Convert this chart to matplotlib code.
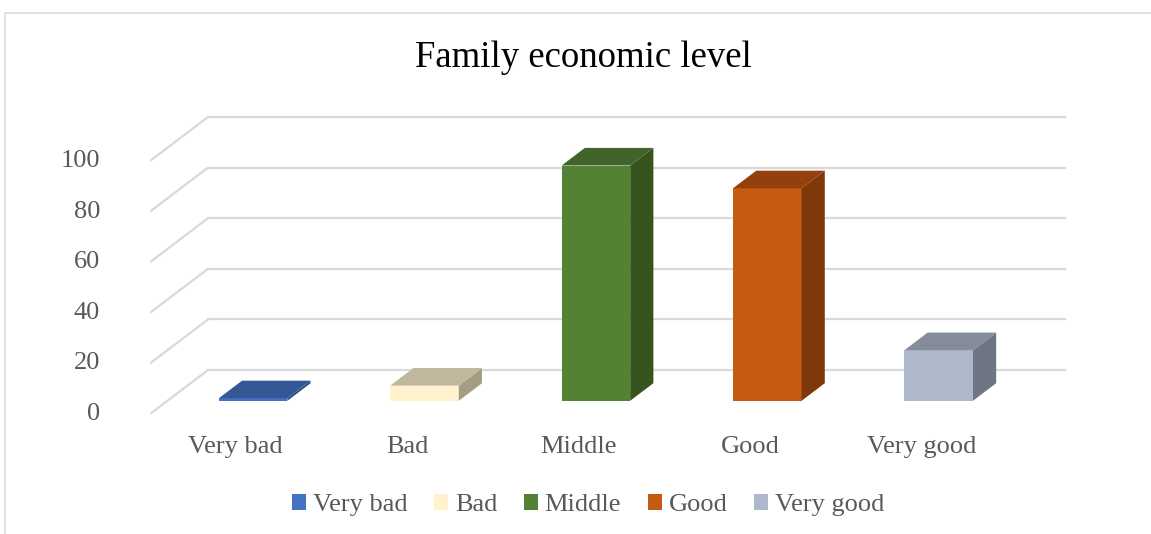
import matplotlib
matplotlib.use("Agg")
import matplotlib.pyplot as plt
from matplotlib.patches import Polygon, Patch, Rectangle

# ---- data ----
categories = ["Very bad", "Bad", "Middle", "Good", "Very good"]
values = [1, 6, 93, 84, 20]
yticks = [0, 20, 40, 60, 80, 100]
front_colors = ["#4472C4", "#FFF2CC", "#548235", "#C55A11", "#ADB9CA"]
top_colors = ["#345896", "#C0B89C", "#42632A", "#94400C", "#838C98"]
side_colors = ["#2C4C80", "#A49D82", "#37541F", "#7E380A", "#6F7683"]
title = "Family economic level"

W, H = 1151, 534
fig = plt.figure(figsize=(W / 100, H / 100), dpi=100)
plt.rcParams["font.family"] = ["Liberation Serif", "DejaVu Serif"]

# chart border
fig.patches.append(Rectangle((5 / W, -0.1), 1.2, 1 - 13 / H + 0.1, transform=fig.transFigure,
                             fill=False, edgecolor="#d9d9d9", linewidth=1.2))

# axes geometry: front plane x in [0,5] -> px 150..1007, y: v=0 -> py 414
px0, pxs = 150, 171.4
py0, pys = 414, 2.53
left_px, right_px, top_px = 150, 1075, 108
ax = fig.add_axes([left_px / W, (H - py0) / H, (right_px - left_px) / W, (py0 - top_px) / H])
ax.set_xlim(0, (right_px - left_px) / pxs)
ax.set_ylim(0, (py0 - top_px) / pys)
ax.axis("off")

DX = 58 / pxs      # full depth offset, x data units
DY = 44 / pys      # full depth offset, value units
nc = len(categories)

# gridlines: diagonal on left side wall + horizontal on back wall
for v in yticks:
    ax.plot([0, DX], [v, v + DY], color="#d9d9d9", lw=1.6, zorder=1, solid_capstyle="butt")
    ax.plot([DX, DX + nc], [v + DY, v + DY], color="#d9d9d9", lw=1.6, zorder=1)
    ax.text(-50 / pxs, v, str(v), ha="right", va="center", fontsize=19, color="#595959",
            clip_on=False)

# 3D-looking bars
f0, f1 = 0.3, 0.7
bw = 0.4
xc = [i + 0.5 for i in range(nc)]
ax.bar([x + f0 * DX for x in xc], values, width=bw, bottom=f0 * DY, color=front_colors,
       edgecolor="none", zorder=3)
d_x = (f1 - f0) * DX
d_y = (f1 - f0) * DY
for x, v, tc, sc in zip(xc, values, top_colors, side_colors):
    xl = x + f0 * DX - bw / 2
    xr = x + f0 * DX + bw / 2
    yb = f0 * DY
    yt = yb + v
    side = Polygon([(xr, yb), (xr + d_x, yb + d_y), (xr + d_x, yt + d_y), (xr, yt)],
                   closed=True, facecolor=sc, edgecolor="none", zorder=3)
    top = Polygon([(xl, yt), (xr, yt), (xr + d_x, yt + d_y), (xl + d_x, yt + d_y)],
                  closed=True, facecolor=tc, edgecolor="none", zorder=3)
    ax.add_patch(side)
    ax.add_patch(top)

# category labels on front floor edge
for x, c in zip(xc, categories):
    ax.text(x, -33 / pys, c, ha="center", va="center", fontsize=19, color="#595959",
            clip_on=False)

fig.text(583 / W, 1 - 58 / H, title, ha="center", va="center", fontsize=26.5, color="black")

handles = [Patch(facecolor=c, edgecolor="none", label=l) for c, l in zip(front_colors, categories)]
fig.legend(handles=handles, loc="center", bbox_to_anchor=(588 / W, 1 - 505 / H), ncol=5,
           frameon=False, fontsize=19, handlelength=0.55, handleheight=0.55,
           handletextpad=0.25, columnspacing=1.0, labelcolor="#595959")

fig.savefig("out.png", dpi=100)
